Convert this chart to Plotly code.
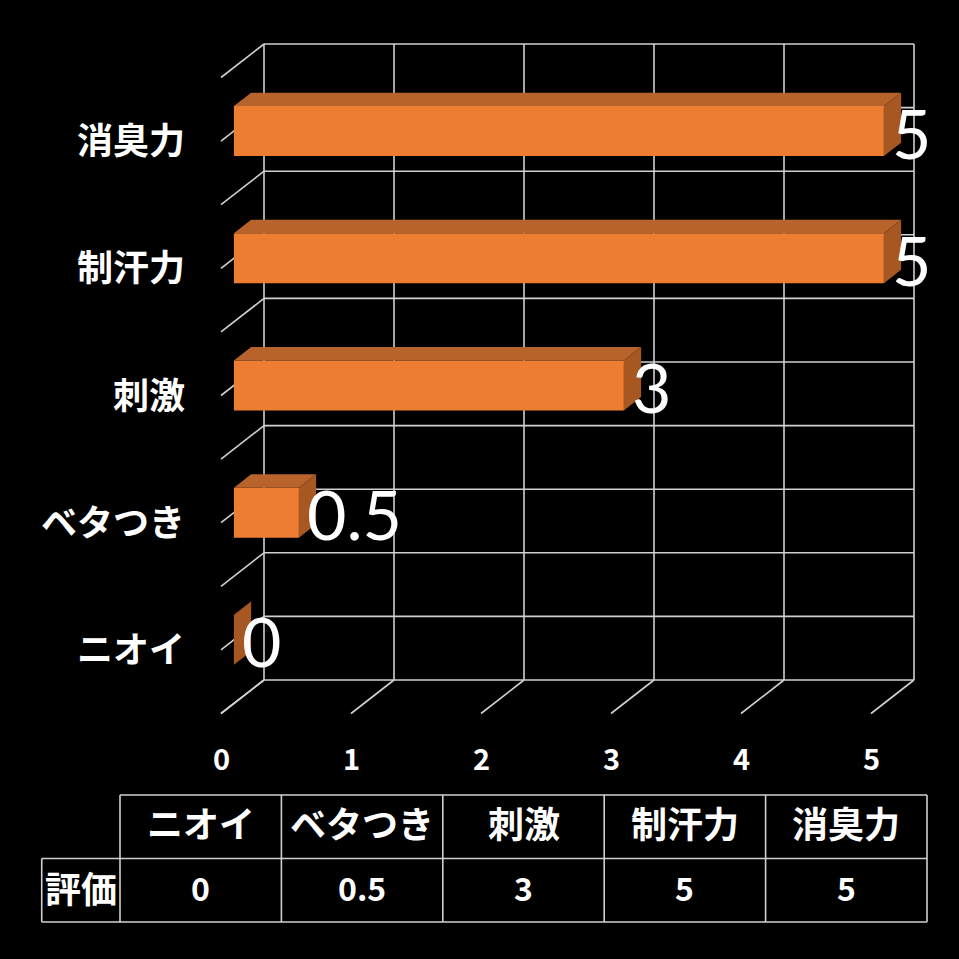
import plotly.graph_objects as go

# data (bottom to top, same order as table columns)
categories = ['ニオイ', 'ベタつき', '刺激', '制汗力', '消臭力']
values = [0, 0.5, 3, 5, 5]
value_ticks = [0, 1, 2, 3, 4, 5]
row_label = '評価'
value_text = ['0', '0.5', '3', '5', '5']

JP = 'Noto Sans CJK JP'
ORANGE = '#ED7D31'
TOP = '#B8632C'
SIDE = '#A65722'
GRID = '#D0D0D0'

# fake 3d: offset of front plane relative to back wall, in axis units
DX, DY = -0.3308, -0.2634
BAR_FRONT, BAR_BACK = 0.3, 0.7   # depth of bar faces (1 = back wall)
BAR_H = 0.393


def proj(v, c, d):
    return v + (1 - d) * DX, c + (1 - d) * DY


fig = go.Figure()

shapes = []
def seg(p, q, xref='x', yref='y'):
    shapes.append(dict(type='line', xref=xref, yref=yref, layer='below',
                       x0=p[0], y0=p[1], x1=q[0], y1=q[1],
                       line=dict(color=GRID, width=1.6)))

# grid on back wall, left wall and floor
ncat = len(categories)
for k in value_ticks:
    seg((k, 0), (k, ncat))
    seg((k, 0), proj(k, 0, 0))
for j in range(2 * ncat + 1):
    y = j / 2
    seg((0, y), (value_ticks[-1], y))
    seg((0, y), proj(0, y, 0))

# front faces
fy = [proj(0, i + 0.5, BAR_FRONT)[1] for i in range(ncat)]
fig.add_trace(go.Bar(y=fy, x=values, base=proj(0, 0, BAR_FRONT)[0], orientation='h',
                     width=BAR_H, marker=dict(color=ORANGE, line=dict(width=0)),
                     hoverinfo='skip', showlegend=False))

# top and side faces
for i, v in enumerate(values):
    c = i + 0.5
    h = BAR_H / 2
    ft0 = proj(0, c + h, BAR_FRONT); ftv = proj(v, c + h, BAR_FRONT)
    bt0 = proj(0, c + h, BAR_BACK); btv = proj(v, c + h, BAR_BACK)
    fbv = proj(v, c - h, BAR_FRONT); bbv = proj(v, c - h, BAR_BACK)
    top = [ft0, ftv, btv, bt0, ft0]
    side = [ftv, btv, bbv, fbv, ftv]
    for poly, col in ((top, TOP), (side, SIDE)):
        fig.add_trace(go.Scatter(x=[p[0] for p in poly], y=[p[1] for p in poly],
                                 fill='toself', fillcolor=col, mode='lines',
                                 line=dict(width=0, color=col), hoverinfo='skip',
                                 showlegend=False))

ann = []
# category labels
for i, name in enumerate(categories):
    x, y = proj(0, i + 0.5, 0)
    ann.append(dict(x=x, y=y, text='<b>%s</b>' % name, showarrow=False, xanchor='right',
                    xshift=-34, yshift=3, font=dict(family=JP, size=36, color='white')))
# value axis labels
for k in value_ticks:
    x, y = proj(k, 0, 0)
    ann.append(dict(x=x, y=y, text='<b>%d</b>' % k, showarrow=False, yshift=-43,
                    font=dict(family=JP, size=29, color='white')))
# data labels
for i, v in enumerate(values):
    x, y = proj(v, i + 0.5, BAR_FRONT)
    ann.append(dict(x=x, y=y, text=value_text[i], showarrow=False, xanchor='left',
                    xshift=6, yshift=-1, font=dict(family='Lato', size=68, color='white')))

# data table on its own axes: column k spans [k, k+1], header row y 1..2, values row 0..1
LABEL_W = 0.485
ncol = len(categories)
seg((0, 2), (ncol, 2), 'x2', 'y2')
for r in (0, 1):
    seg((-LABEL_W, r), (ncol, r), 'x2', 'y2')
seg((-LABEL_W, 0), (-LABEL_W, 1), 'x2', 'y2')
for k in range(ncol + 1):
    seg((k, 0), (k, 2), 'x2', 'y2')

for k, name in enumerate(categories):
    ann.append(dict(x=k + 0.5, y=1.5, xref='x2', yref='y2', text='<b>%s</b>' % name,
                    showarrow=False, yshift=5, font=dict(family=JP, size=36, color='white')))
    ann.append(dict(x=k + 0.5, y=0.5, xref='x2', yref='y2', text='<b>%s</b>' % value_text[k],
                    showarrow=False, yshift=3, font=dict(family=JP, size=32, color='white')))
ann.append(dict(x=-LABEL_W / 2, y=0.5, xref='x2', yref='y2', text='<b>%s</b>' % row_label,
                showarrow=False, yshift=3, font=dict(family=JP, size=36, color='white')))

fig.update_layout(
    width=959, height=959, autosize=False,
    margin=dict(l=0, r=0, t=0, b=0),
    paper_bgcolor='black', plot_bgcolor='black',
    xaxis=dict(range=[-264 / 130, (959 - 264) / 130], visible=False, fixedrange=True),
    yaxis=dict(range=[(680 - 959) / 127.2, 680 / 127.2], visible=False, fixedrange=True),
    xaxis2=dict(overlaying='x', range=[-120 / 161.4, (959 - 120) / 161.4],
                visible=False, fixedrange=True),
    yaxis2=dict(overlaying='y', range=[(922 - 959) / 63.5, 922 / 63.5],
                visible=False, fixedrange=True),
    shapes=shapes, annotations=ann, showlegend=False,
)

fig.write_html('out.html', config=dict(displayModeBar=False),
               post_script="document.body.style.margin='0';document.body.style.overflow='hidden';")
